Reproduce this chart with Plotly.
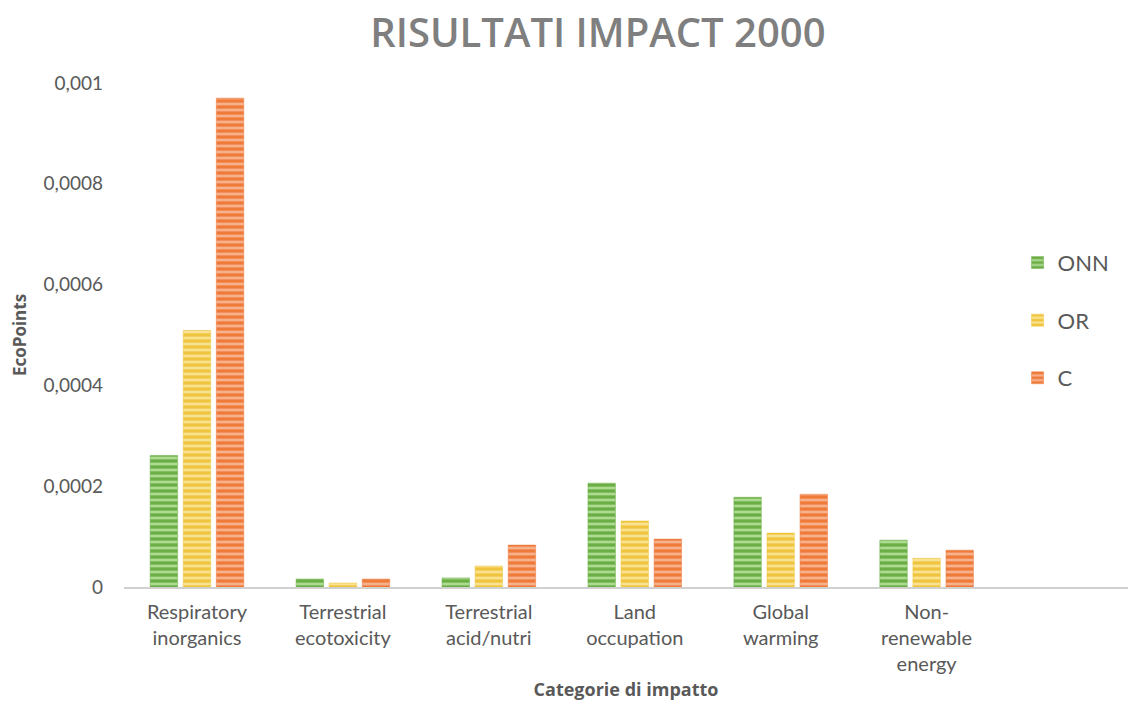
import plotly.graph_objects as go

categories = [
    "Respiratory<br>inorganics",
    "Terrestrial<br>ecotoxicity",
    "Terrestrial<br>acid/nutri",
    "Land<br>occupation",
    "Global<br>warming",
    "Non-<br>renewable<br>energy",
]
onn = [0.000261, 0.0000158, 0.000018, 0.000206, 0.000178, 0.000093]
orr = [0.000509, 0.000008, 0.0000416, 0.000131, 0.000107, 0.000057]
c_vals = [0.000970, 0.0000158, 0.0000832, 0.000095, 0.000184, 0.000073]

series_names = ["ONN", "OR", "C"]
tick_vals = [0, 0.0002, 0.0004, 0.0006, 0.0008, 0.001]
tick_text = ["0", "0,0002", "0,0004", "0,0006", "0,0008", "0,001"]

styles = [
    ("#6aae45", "#b5e09a"),
    ("#efc43e", "#fbe69a"),
    ("#ee7b3a", "#f9b796"),
]

x_pos = list(range(len(categories)))
fig = go.Figure()
for name, vals, (base, stripe) in zip(series_names, [onn, orr, c_vals], styles):
    fig.add_trace(go.Bar(
        name=name,
        x=x_pos,
        y=vals,
        legendgroup=name,
        marker=dict(
            color=base,
            line=dict(color=base, width=0.5),
            pattern=dict(shape="-", bgcolor=base, fgcolor=stripe,
                         fgopacity=0.9, size=6, solidity=0.45),
        ),
    ))

font_family = "Lato, 'Open Sans', sans-serif"
title_family = "'Open Sans', sans-serif"
fig.update_layout(
    width=1128, height=702,
    paper_bgcolor="white", plot_bgcolor="white",
    margin=dict(l=124, r=0, t=83, b=115),
    barmode="group", bargap=0.32, bargroupgap=0.17,
    title=dict(text="RISULTATI IMPACT 2000", x=0.53, xanchor="center",
               y=0.953, yanchor="middle",
               font=dict(family=title_family, size=40, color="#7f7f7f", weight=600)),
    showlegend=True,
    legend=dict(x=0.89, xanchor="left", y=0.685, yanchor="top",
                font=dict(family=font_family, size=22, color="#595959"),
                tracegroupgap=26, itemwidth=30, bgcolor="rgba(0,0,0,0)"),
    xaxis=dict(
        tickmode="array", tickvals=x_pos, ticktext=categories,
        range=[-0.5, 6.38], showgrid=False, zeroline=False,
        showline=True, linecolor="#d0d0d0", linewidth=1.5, ticks="",
        tickfont=dict(family=font_family, size=20, color="#595959"),
        ticklabelstandoff=6,
        title=dict(text="<b>Categorie di impatto</b>", standoff=10,
                   font=dict(family=title_family, size=18, color="#595959")),
    ),
    yaxis=dict(
        range=[0, 0.001], tickmode="array", tickvals=tick_vals, ticktext=tick_text,
        showgrid=False, zeroline=False, showline=False, ticks="",
        tickfont=dict(family=font_family, size=19, color="#595959"),
        ticklabelstandoff=20,
        title=dict(text="<b>EcoPoints</b>", standoff=12,
                   font=dict(family=title_family, size=17, color="#595959")),
    ),
)

fig.write_html("out.html")
